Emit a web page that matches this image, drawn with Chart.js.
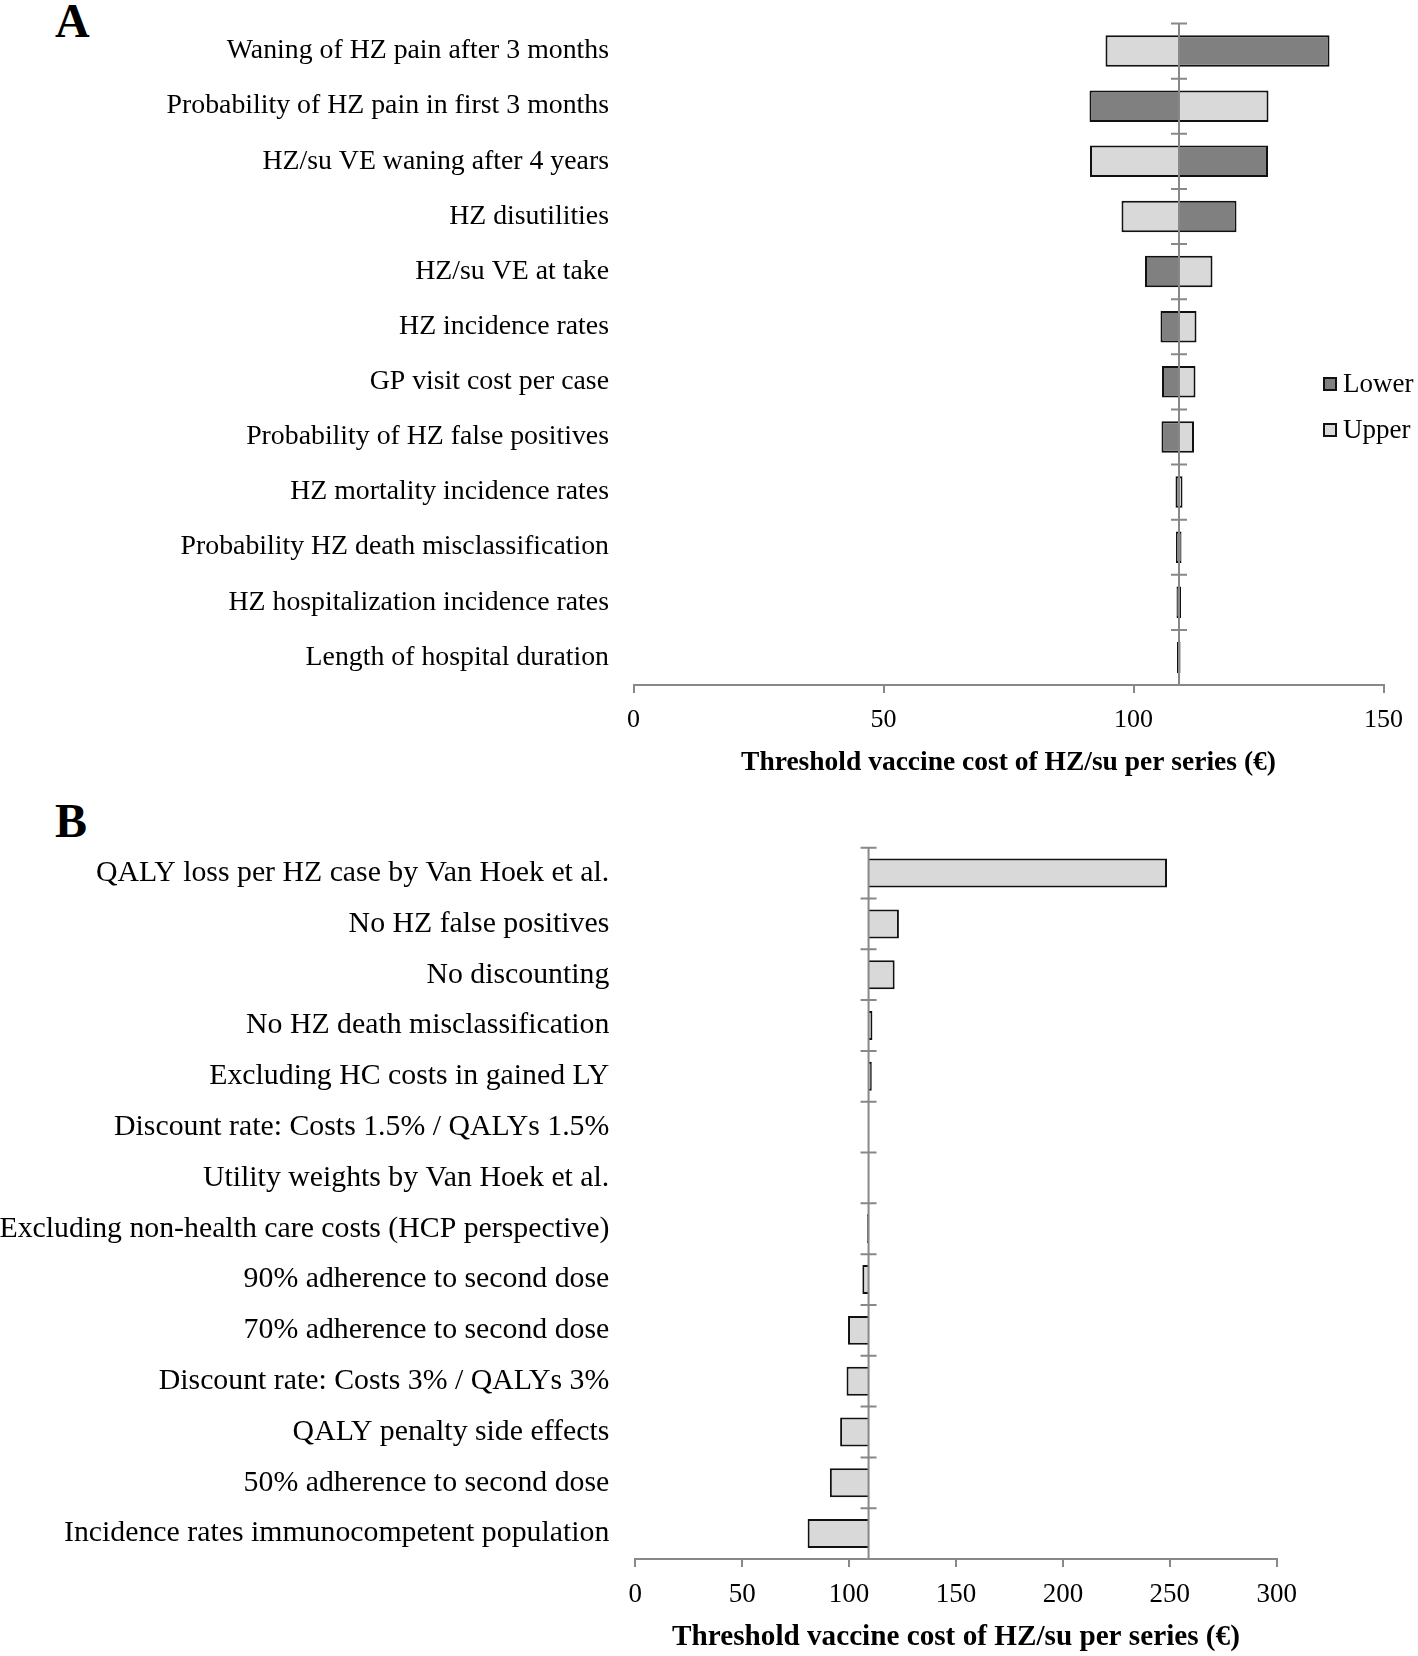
<!DOCTYPE html>
<html><head><meta charset="utf-8">
<script src="https://cdn.jsdelivr.net/npm/chart.js@4"></script>
<style>
html,body{margin:0;padding:0;background:#fff;}
body{width:1418px;height:1656px;position:relative;overflow:hidden;font-family:"Liberation Serif","Times New Roman",serif;color:#000;}
canvas{position:absolute;left:0;}
.panel{position:absolute;font-weight:bold;font-size:48px;line-height:48px;}
.leg{position:absolute;font-size:27px;line-height:27px;display:flex;align-items:center;white-space:nowrap;}
.sw{display:inline-block;width:10px;height:10px;border:2px solid #111;margin-right:6px;}
</style></head>
<body>
<div class="panel" style="left:55px;top:-3px">A</div>
<div class="panel" style="left:55px;top:797px">B</div>
<canvas id="cA" width="1418" height="780" style="top:0"></canvas>
<canvas id="cB" width="1418" height="876" style="top:780px"></canvas>
<div class="leg" style="left:1323px;top:370px"><span class="sw" style="background:#808080"></span>Lower</div>
<div class="leg" style="left:1323px;top:416px"><span class="sw" style="background:#d9d9d9"></span>Upper</div>
<script>
// ---------- Panel A data ----------
const labelsA = [
  "Waning of HZ pain after 3 months",
  "Probability of HZ pain in first 3 months",
  "HZ/su VE waning after 4 years",
  "HZ disutilities",
  "HZ/su VE at take",
  "HZ incidence rates",
  "GP visit cost per case",
  "Probability of HZ false positives",
  "HZ mortality incidence rates",
  "Probability HZ death misclassification",
  "HZ hospitalization incidence rates",
  "Length of hospital duration"
];
const lowerA = [139.2, 91.2, 126.9, 120.6, 102.3, 105.4, 105.7, 105.6, 108.4, 108.5, 108.6, 108.7];
const upperA = [94.4, 127.0, 91.3, 97.6, 115.8, 112.6, 112.4, 112.1, 109.8, 109.6, 109.5, 109.4];
const baseA = 109.1;
const ticksA = [0, 50, 100, 150];

// ---------- Panel B data ----------
const labelsB = [
  "QALY loss per HZ case by Van Hoek et al.",
  "No HZ false positives",
  "No discounting",
  "No HZ death misclassification",
  "Excluding HC costs in gained LY",
  "Discount rate: Costs 1.5% / QALYs 1.5%",
  "Utility weights by Van Hoek et al.",
  "Excluding non-health care costs (HCP perspective)",
  "90% adherence to second dose",
  "70% adherence to second dose",
  "Discount rate: Costs 3% / QALYs 3%",
  "QALY penalty side effects",
  "50% adherence to second dose",
  "Incidence rates immunocompetent population"
];
const valuesB = [248.7, 123.3, 121.3, 110.9, 110.6, 109.2, 109.2, 108.4, 106.2, 99.5, 98.8, 95.8, 91.0, 80.6];
const baseB = 109.1;
const ticksB = [0, 50, 100, 150, 200, 250, 300];

const axisTitle = "Threshold vaccine cost of HZ/su per series (\u20AC)";

Chart.defaults.font.family = '"Liberation Serif", "Times New Roman", serif';
Chart.defaults.color = '#000';

const centerLine = {
  id: 'centerLine',
  afterDatasetsDraw(chart, args, opts) {
    const {ctx, chartArea, scales} = chart;
    const x = scales.x, y = scales.y;
    const px = x.getPixelForValue(opts.base);
    const n = chart.data.labels.length;
    const step = (y.getPixelForValue(n - 1) - y.getPixelForValue(0)) / (n - 1);
    ctx.save();
    ctx.strokeStyle = '#888';
    ctx.lineWidth = 2;
    ctx.beginPath();
    ctx.moveTo(px, chartArea.top);
    ctx.lineTo(px, chartArea.bottom);
    for (let i = 0; i < n; i++) {
      const yy = y.getPixelForValue(i) - step / 2;
      ctx.moveTo(px - 8, yy);
      ctx.lineTo(px + 8, yy);
    }
    ctx.stroke();
    ctx.restore();
  }
};

function skipInner(base) {
  return (c) => {
    const v = Array.isArray(c.raw) ? c.raw[1] : c.raw;
    return v < base ? 'right' : 'left';
  };
}

function makeOptions(cfg) {
  return {
    indexAxis: 'y',
    responsive: false,
    animation: false,
    devicePixelRatio: 1,
    layout: { padding: cfg.padding },
    plugins: {
      legend: { display: false },
      tooltip: { enabled: false },
      centerLine: { base: cfg.base }
    },
    scales: {
      x: {
        type: 'linear',
        min: cfg.ticks[0],
        max: cfg.ticks[cfg.ticks.length - 1],
        afterBuildTicks: (s) => { s.ticks = cfg.ticks.map(v => ({ value: v })); },
        afterFit: (s) => { s.height = cfg.xHeight; s.paddingLeft = 0; s.paddingRight = 0; s.paddingTop = 0; s.paddingBottom = 0; },
        grid: { drawOnChartArea: false, drawTicks: true, tickLength: 8, color: '#888', lineWidth: 2 },
        border: { display: true, color: '#888', width: 2 },
        ticks: { font: { size: cfg.tickFont }, padding: cfg.tickPad, color: '#000', maxRotation: 0 },
        title: { display: true, text: axisTitle, color: '#000',
                 font: { size: cfg.titleFont, weight: 'bold' }, padding: { top: 0, bottom: cfg.titlePad } }
      },
      y: {
        type: 'category',
        offset: true,
        afterFit: (s) => { s.width = cfg.yWidth; s.paddingTop = 0; s.paddingBottom = 0; s.paddingLeft = 0; s.paddingRight = 0; },
        grid: { display: false, drawTicks: false },
        border: { display: false },
        ticks: { font: { size: cfg.labelFont }, padding: cfg.labelPad, color: '#000', autoSkip: false }
      }
    }
  };
}

new Chart(document.getElementById('cA'), {
  type: 'bar',
  data: {
    labels: labelsA,
    datasets: [
      { label: 'Lower', data: lowerA.map(v => [baseA, v]), backgroundColor: '#808080',
        borderColor: '#111', borderWidth: 2, borderSkipped: skipInner(baseA),
        grouped: false, barPercentage: 0.57, categoryPercentage: 1 },
      { label: 'Upper', data: upperA.map(v => [baseA, v]), backgroundColor: '#d9d9d9',
        borderColor: '#111', borderWidth: 2, borderSkipped: skipInner(baseA),
        grouped: false, barPercentage: 0.57, categoryPercentage: 1 }
    ]
  },
  options: makeOptions({ padding: { top: 23.5, right: 34.5, left: 0, bottom: 0 }, base: baseA, ticks: ticksA,
    xHeight: 95, tickFont: 26, tickPad: 12, titleFont: 27.5, titlePad: 1, yWidth: 633.5, labelFont: 27.8, labelPad: 24.5 }),
  plugins: [centerLine]
});

new Chart(document.getElementById('cB'), {
  type: 'bar',
  data: {
    labels: labelsB,
    datasets: [
      { label: 'Change', data: valuesB.map(v => [baseB, v]), backgroundColor: '#d9d9d9',
        borderColor: '#111', borderWidth: 2, borderSkipped: skipInner(baseB),
        barPercentage: 0.57, categoryPercentage: 1 }
    ]
  },
  options: makeOptions({ padding: { top: 67.7, right: 141.3, left: 0, bottom: 0 }, base: baseB, ticks: ticksB,
    xHeight: 97, tickFont: 27, tickPad: 12, titleFont: 29.2, titlePad: 1, yWidth: 635.3, labelFont: 29.8, labelPad: 26 }),
  plugins: [centerLine]
});
</script>
</body></html>
